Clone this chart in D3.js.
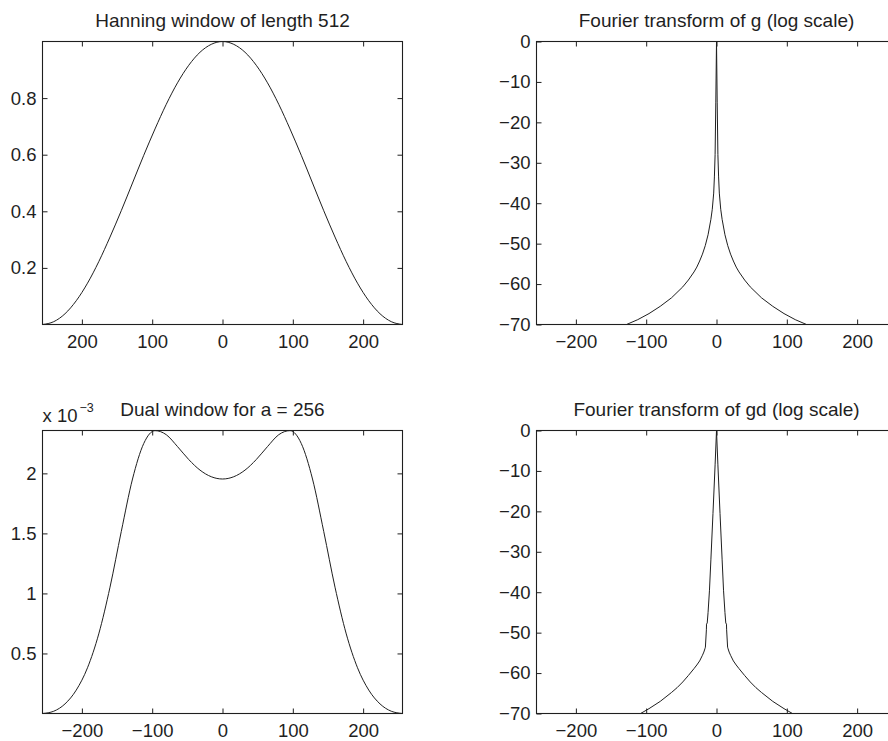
<!DOCTYPE html>
<html>
<head>
<meta charset="utf-8">
<script src="https://cdn.jsdelivr.net/npm/d3@7"></script>
<style>
body { margin: 0; background: #fff; }
svg { display: block; font-family: "Liberation Sans", Arial, Helvetica, sans-serif; }
</style>
</head>
<body>
<svg id="chart" width="888" height="741"></svg>
<script>
// time lags for the two windows (samples)
var lags = [-256, -240, -224, -208, -192, -176, -160, -144, -128, -112, -96, -80, -64, -48, -32, -16,
            0, 16, 32, 48, 64, 80, 96, 112, 128, 144, 160, 176, 192, 208, 224, 240, 256];

// Hanning window, length 512
var hannWindow = [0, 0.010, 0.038, 0.084, 0.146, 0.222, 0.309, 0.402, 0.5, 0.598, 0.691, 0.778, 0.854, 0.916, 0.962, 0.990,
                  1, 0.990, 0.962, 0.916, 0.854, 0.778, 0.691, 0.598, 0.5, 0.402, 0.309, 0.222, 0.146, 0.084, 0.038, 0.010, 0];

// dual window for a = 256 (in units of 10^-3)
var dualWindow = [0, 0.019, 0.080, 0.195, 0.381, 0.663, 1.052, 1.515, 1.953, 2.249, 2.356, 2.322, 2.223, 2.115, 2.027, 1.972,
                  1.953, 1.972, 2.027, 2.115, 2.223, 2.322, 2.356, 2.249, 1.953, 1.515, 1.052, 0.663, 0.381, 0.195, 0.080, 0.019, 0];

// spectrum of g, dB
var freqG = [-160, -144, -128, -112, -96, -80, -64, -48, -40, -32, -28, -24, -20, -16, -12, -8, -6, -4, -3, -2, -1,
             0, 1, 2, 3, 4, 6, 8, 12, 16, 20, 24, 28, 32, 40, 48, 64, 80, 96, 112, 128, 144, 160];
var dbG = [-72.1, -71.1, -70, -68.8, -67.3, -65.5, -63.4, -60.7, -59, -57, -55.8, -54.3, -52.6, -50.5, -47.8, -44, -41.5, -37.5, -33.5, -28, -15,
           0, -15, -28, -33.5, -37.5, -41.5, -44, -47.8, -50.5, -52.6, -54.3, -55.8, -57, -59, -60.7, -63.4, -65.5, -67.3, -68.8, -70, -71.1, -72.1];

// spectrum of gd, dB
var freqGd = [-144, -128, -108, -96, -80, -64, -56, -48, -40, -32, -28, -24, -20, -18, -16.5, -15.8, -14.4, -14.2, -13.2, -12, -10, -8, -5, -2,
              0, 2, 5, 8, 10, 12, 13.2, 14.2, 14.4, 15.8, 16.5, 18, 20, 24, 28, 32, 40, 48, 56, 64, 80, 96, 108, 128, 144];
var dbGd = [-72.7, -71.6, -70, -68.8, -67, -64.8, -63.6, -62.2, -60.6, -58.9, -58, -57, -55.6, -54.8, -54, -53.6, -49.3, -47.9, -47.6, -45, -39.5, -32, -20.5, -8.5,
            0, -8.5, -20.5, -32, -39.5, -45, -47.6, -47.9, -49.3, -53.6, -54, -54.8, -55.6, -57, -58, -58.9, -60.6, -62.2, -63.6, -64.8, -67, -68.8, -70, -71.6, -72.7];

var xTicks = [-200, -100, 0, 100, 200];
var dbTicks = [0, -10, -20, -30, -40, -50, -60, -70];

var W = 360, H = 283, tickLen = 5, ink = "#1f1f1f";
var svg = d3.select("#chart");
var fmt = d3.format("");

var panels = [
    { left: 42.5, top: 41.5, title: "Hanning window of length 512", xs: lags, ys: hannWindow,
      yDomain: [0, 1], yTicks: [0.2, 0.4, 0.6, 0.8], xFormat: function(d) { return Math.abs(d); },
      curve: d3.curveMonotoneX },
    { left: 536.5, top: 41.5, title: "Fourier transform of g (log scale)", xs: freqG, ys: dbG,
      yDomain: [-70, 0], yTicks: dbTicks, xFormat: fmt, curve: d3.curveLinear },
    { left: 42.5, top: 430.5, title: "Dual window for a = 256", xs: lags, ys: dualWindow,
      yDomain: [0, 2.357], yTicks: [0.5, 1, 1.5, 2], xFormat: fmt, curve: d3.curveMonotoneX, exponent: "\u22123" },
    { left: 536.5, top: 430.5, title: "Fourier transform of gd (log scale)", xs: freqGd, ys: dbGd,
      yDomain: [-70, 0], yTicks: dbTicks, xFormat: fmt, curve: d3.curveLinear }
];

panels.forEach(function(p, i) {
    var x = d3.scaleLinear().domain([-256, 256]).range([0, W]),
        y = d3.scaleLinear().domain(p.yDomain).range([H, 0]);

    var g = svg.append("g")
        .attr("transform", "translate(" + p.left + "," + p.top + ")")
        .style("color", ink);

    g.append("clipPath").attr("id", "clip" + i)
        .append("rect").attr("width", W).attr("height", H);

    g.append("path")
        .datum(d3.zip(p.xs, p.ys))
        .attr("clip-path", "url(#clip" + i + ")")
        .attr("fill", "none")
        .attr("stroke", ink)
        .attr("stroke-width", 1)
        .attr("d", d3.line()
            .x(function(d) { return x(d[0]); })
            .y(function(d) { return y(d[1]); })
            .curve(p.curve));

    // labelled axes (bottom, left) and mirrored ticks (top, right), all pointing inward
    var axes = [
        { ax: d3.axisBottom(x).tickValues(xTicks).tickFormat(p.xFormat).tickPadding(10), t: "translate(0," + H + ")" },
        { ax: d3.axisLeft(y).tickValues(p.yTicks).tickFormat(fmt).tickPadding(6), t: null },
        { ax: d3.axisTop(x).tickValues(xTicks).tickFormat(""), t: null },
        { ax: d3.axisRight(y).tickValues(p.yTicks).tickFormat(""), t: "translate(" + W + ",0)" }
    ];
    axes.forEach(function(a) {
        var ag = g.append("g").attr("transform", a.t)
            .call(a.ax.tickSizeInner(-tickLen).tickSizeOuter(0))
            .attr("font-size", 18.5)
            .attr("font-family", null);
        ag.select(".domain").remove();
        ag.selectAll("text").attr("fill", ink);
    });

    g.append("rect")
        .attr("width", W).attr("height", H)
        .attr("fill", "none")
        .attr("stroke", ink)
        .attr("stroke-width", 1.1);

    g.append("text")
        .attr("x", W / 2)
        .attr("y", -15)
        .attr("text-anchor", "middle")
        .attr("font-size", 19)
        .attr("fill", ink)
        .text(p.title);

    if (p.exponent) {
        var e = g.append("text").attr("x", 0).attr("y", -9).attr("font-size", 18.5).attr("fill", ink);
        e.append("tspan").text("x 10");
        e.append("tspan").attr("dx", 2).attr("dy", -10).attr("font-size", 12.5).text(p.exponent);
    }
});
</script>
</body>
</html>
